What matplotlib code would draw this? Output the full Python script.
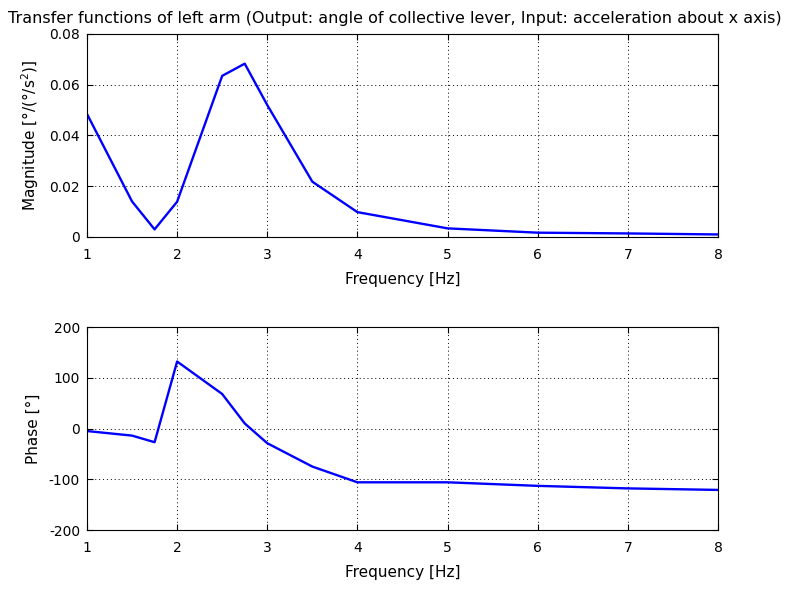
import numpy as np
import matplotlib
matplotlib.use('Agg')
import matplotlib.pyplot as plt

# frequency points of the measurement [Hz]
freq = [1, 1.5, 1.75, 2, 2.5, 2.75, 3, 3.5, 4, 5, 6, 7, 8]
# magnitude [deg/(deg/s^2)]
magnitude = [0.0485, 0.0140, 0.0030, 0.0139, 0.0635, 0.0683, 0.0520, 0.0218,
             0.0098, 0.0034, 0.0017, 0.0014, 0.0010]
# phase [deg]
phase = [-5, -14, -27, 132, 68, 10, -29, -75, -106, -106, -113, -118, -121]

plt.rcParams['font.family'] = ['DejaVu Sans']
plt.rcParams['font.size'] = 10
plt.rcParams['axes.unicode_minus'] = False

fig = plt.figure(figsize=(7.85, 5.91), dpi=100)
ax1 = fig.add_axes([0.1108, 0.599, 0.8038, 0.3435])
ax2 = fig.add_axes([0.1108, 0.1032, 0.8038, 0.3435])

for ax in (ax1, ax2):
    ax.set_xlim(1, 8)
    ax.set_xticks(range(1, 9))
    ax.grid(True, color='black', linestyle=(0, (1, 3)), linewidth=0.7)
    ax.tick_params(direction='in', top=True, right=True, length=4.5, width=0.8)
    ax.tick_params(axis='x', pad=8)
    ax.tick_params(axis='y', pad=5)
    for s in ax.spines.values():
        s.set_linewidth(0.8)
    ax.set_xlabel('Frequency [Hz]', fontsize=11, labelpad=7)

ax1.plot(freq, magnitude, color='#0000ff', linewidth=1.7)
ax1.set_ylim(0, 0.08)
ax1.set_yticks([0, 0.02, 0.04, 0.06, 0.08])
ax1.set_yticklabels(['0', '0.02', '0.04', '0.06', '0.08'])
ax1.set_ylabel('Magnitude [°/(°/s$^2$)]', fontsize=11, labelpad=6)

# the title is wider than the axes, so centre it on the figure
fig.text(0.503, 0.969, 'Transfer functions of left arm (Output: angle of collective lever, '
         'Input: acceleration about x axis)', fontsize=11.5, ha='center', va='center')

ax2.plot(freq, phase, color='#0000ff', linewidth=1.7)
ax2.set_ylim(-200, 200)
ax2.set_yticks([-200, -100, 0, 100, 200])
ax2.set_ylabel('Phase [°]', fontsize=11, labelpad=6)

fig.savefig('out.png', dpi=100)
